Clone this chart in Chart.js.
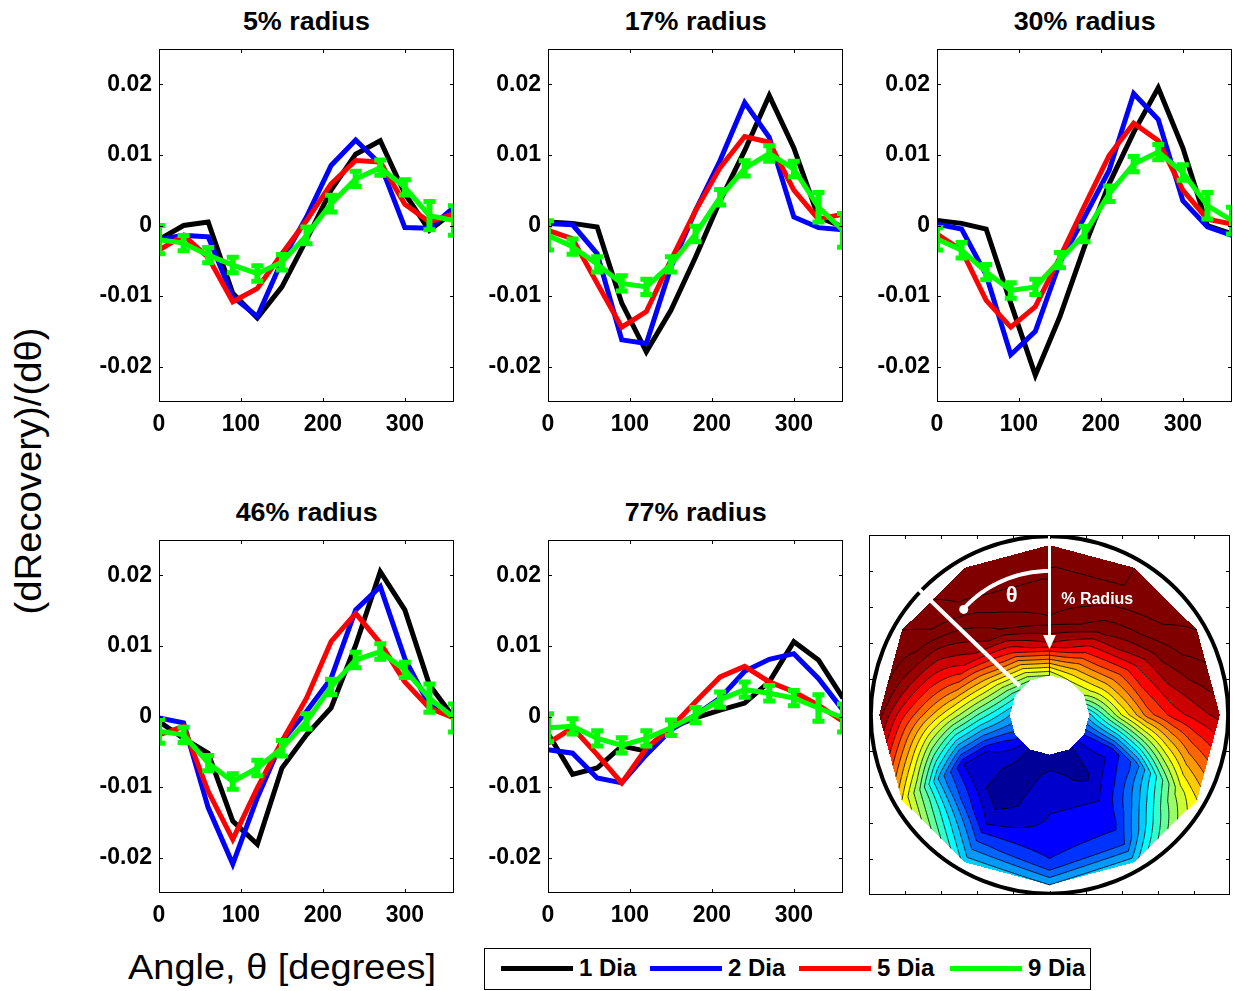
<!DOCTYPE html>
<html><head><meta charset="utf-8"><title>dRecovery/dtheta</title>
<script src="https://cdn.jsdelivr.net/npm/chart.js@4.4.1/dist/chart.umd.min.js"></script>
<style>
html,body{margin:0;padding:0;background:#fff;}
#wrap{position:relative;width:1233px;height:991px;overflow:hidden;background:#fff;font-family:'Liberation Sans',Arial,Helvetica,sans-serif;}
canvas{position:absolute;}
.txt{position:absolute;white-space:nowrap;color:#000;transform-origin:50% 50%;}
</style></head><body><div id="wrap"></div>
<script>
const FONT = "'Liberation Sans', Arial, Helvetica, sans-serif";

// ---------------- data ----------------
const angles = [0,30,60,90,120,150,180,210,240,270,300,330,360];
const xTicks = [0,100,200,300];
const yTicks = [-0.02,-0.01,0,0.01,0.02];
const yTickLabels = ['-0.02','-0.01','0','0.01','0.02'];
const seriesNames = ['1 Dia','2 Dia','5 Dia','9 Dia'];
const seriesColors = ['#000000','#0000ff','#ff0000','#00ff00'];
const panelTitles = ['5% radius','17% radius','30% radius','46% radius','77% radius'];

const r5_d1 = [-0.0020, 0.0000, 0.0005,-0.0096,-0.0131,-0.0087,-0.0020, 0.0050, 0.0101, 0.0120, 0.0045,-0.0007, 0.0020];
const r5_d2 = [-0.0020,-0.0014,-0.0016,-0.0101,-0.0129,-0.0050, 0.0012, 0.0085, 0.0121, 0.0087,-0.0003,-0.0004, 0.0026];
const r5_d5 = [-0.0035,-0.0014,-0.0045,-0.0108,-0.0089,-0.0040, 0.0007, 0.0059, 0.0092, 0.0090, 0.0030, 0.0005, 0.0017];
const r5_d9 = [-0.0020,-0.0025,-0.0042,-0.0056,-0.0068,-0.0052,-0.0014, 0.0031, 0.0066, 0.0082, 0.0054, 0.0014, 0.0007];
const r5_e9 = [ 0.0022, 0.0013, 0.0013, 0.0013, 0.0013, 0.0013, 0.0014, 0.0014, 0.0013, 0.0013, 0.0013, 0.0022, 0.0023];

const r17_d1 = [ 0.0005, 0.0003,-0.0002,-0.0110,-0.0179,-0.0120,-0.0045, 0.0035, 0.0106, 0.0184, 0.0110, 0.0012,-0.0002];
const r17_d2 = [ 0.0003, 0.0001,-0.0040,-0.0162,-0.0167,-0.0059, 0.0021, 0.0092, 0.0174, 0.0125, 0.0012,-0.0003,-0.0006];
const r17_d5 = [-0.0007,-0.0019,-0.0082,-0.0144,-0.0122,-0.0049, 0.0021, 0.0082, 0.0126, 0.0118, 0.0050, 0.0009, 0.0016];
const r17_d9 = [-0.0014,-0.0030,-0.0055,-0.0082,-0.0087,-0.0055,-0.0012, 0.0040, 0.0081, 0.0102, 0.0080, 0.0026,-0.0007];
const r17_e9 = [ 0.0023, 0.0013, 0.0013, 0.0013, 0.0013, 0.0013, 0.0013, 0.0013, 0.0013, 0.0013, 0.0013, 0.0023, 0.0026];

const r30_d1 = [ 0.0007, 0.0003,-0.0005,-0.0110,-0.0212,-0.0129,-0.0030, 0.0059, 0.0132, 0.0195, 0.0110, 0.0000,-0.0012];
const r30_d2 = [ 0.0002,-0.0005,-0.0070,-0.0183,-0.0150,-0.0052, 0.0012, 0.0078, 0.0187, 0.0150, 0.0035,-0.0002,-0.0014];
const r30_d5 = [-0.0012,-0.0035,-0.0106,-0.0144,-0.0115,-0.0045, 0.0028, 0.0099, 0.0145, 0.0120, 0.0050, 0.0009, 0.0002];
const r30_d9 = [-0.0019,-0.0035,-0.0066,-0.0092,-0.0087,-0.0049,-0.0012, 0.0045, 0.0087, 0.0104, 0.0075, 0.0028, 0.0007];
const r30_e9 = [ 0.0018, 0.0013, 0.0013, 0.0013, 0.0013, 0.0013, 0.0013, 0.0013, 0.0013, 0.0013, 0.0013, 0.0021, 0.0021];

const r46_d1 = [-0.0007,-0.0031,-0.0052,-0.0148,-0.0181,-0.0073,-0.0026, 0.0012, 0.0101, 0.0205, 0.0151, 0.0045,-0.0002];
const r46_d2 = [-0.0002,-0.0009,-0.0129,-0.0209,-0.0115,-0.0035, 0.0007, 0.0054, 0.0151, 0.0184, 0.0082, 0.0016,-0.0002];
const r46_d5 = [-0.0026,-0.0014,-0.0106,-0.0174,-0.0101,-0.0035, 0.0026, 0.0106, 0.0146, 0.0104, 0.0049, 0.0012,-0.0002];
const r46_d9 = [-0.0021,-0.0026,-0.0066,-0.0092,-0.0073,-0.0045,-0.0007, 0.0042, 0.0080, 0.0092, 0.0066, 0.0026,-0.0002];
const r46_e9 = [ 0.0019, 0.0013, 0.0013, 0.0013, 0.0013, 0.0013, 0.0013, 0.0013, 0.0013, 0.0013, 0.0013, 0.0022, 0.0022];

const r77_d1 = [-0.0024,-0.0082,-0.0073,-0.0042,-0.0049,-0.0016,-0.0002, 0.0009, 0.0019, 0.0049, 0.0106, 0.0080, 0.0026];
const r77_d2 = [-0.0047,-0.0052,-0.0087,-0.0094,-0.0054,-0.0019, 0.0002, 0.0026, 0.0064, 0.0081, 0.0089, 0.0054, 0.0009];
const r77_d5 = [-0.0038,-0.0016,-0.0054,-0.0094,-0.0045,-0.0016, 0.0021, 0.0056, 0.0071, 0.0049, 0.0035, 0.0016,-0.0007];
const r77_d9 = [-0.0016,-0.0014,-0.0031,-0.0041,-0.0031,-0.0016, 0.0002, 0.0024, 0.0038, 0.0033, 0.0026, 0.0012,-0.0002];
const r77_e9 = [ 0.0022, 0.0013, 0.0013, 0.0013, 0.0013, 0.0013, 0.0013, 0.0013, 0.0013, 0.0013, 0.0013, 0.0021, 0.0022];

// contour map: field value at each ring (radius) and angle (CCW from top)
const ringAngles = [0,30,60,90,120,150,180,210,240,270,300,330];
const ringRadii = [0.22,0.40,0.55,0.70,0.83,0.944];
const ring0 = [0.55,0.50,0.42,0.30,0.18,0.04,0.03,0.03,0.15,0.33,0.55,0.60];
const ring1 = [0.95,0.85,0.70,0.45,0.10,0.02,0.07,0.04,0.12,0.60,0.75,0.85];
const ring2 = [1.10,1.05,0.90,0.60,0.10,0.02,0.10,0.10,0.22,0.78,0.90,1.02];
const ring3 = [1.15,1.12,0.98,0.75,0.28,0.10,0.12,0.13,0.42,0.88,1.02,1.10];
const ring4 = [1.15,1.18,1.08,0.88,0.50,0.22,0.16,0.20,0.58,0.93,1.08,1.15];
const ring5 = [1.15,1.20,1.10,1.02,0.65,0.33,0.30,0.33,0.65,0.97,1.10,1.15];
const contourLevels = [-0.10,-0.05,0.00,0.05,0.10,0.15,0.20,0.25,0.30,0.35,0.40,0.45,0.50,0.55,0.60,0.65,0.70,0.75,0.80,0.85,0.90,0.95,1.00,1.05,1.10,1.15,1.20,1.25];
const mapTicks = [-0.8,-0.6,-0.4,-0.2,0,0.2,0.4,0.6,0.8];

// ---------------- layout ----------------
const wrap = document.getElementById('wrap');
const panels = [
  {title:panelTitles[0], d1:r5_d1,  d2:r5_d2,  d5:r5_d5,  d9:r5_d9,  e9:r5_e9,  box:{x:159,y:49,w:295,h:353}},
  {title:panelTitles[1], d1:r17_d1, d2:r17_d2, d5:r17_d5, d9:r17_d9, e9:r17_e9, box:{x:548,y:49,w:295,h:353}},
  {title:panelTitles[2], d1:r30_d1, d2:r30_d2, d5:r30_d5, d9:r30_d9, e9:r30_e9, box:{x:937,y:49,w:295,h:353}},
  {title:panelTitles[3], d1:r46_d1, d2:r46_d2, d5:r46_d5, d9:r46_d9, e9:r46_e9, box:{x:159,y:540,w:295,h:353}},
  {title:panelTitles[4], d1:r77_d1, d2:r77_d2, d5:r77_d5, d9:r77_d9, e9:r77_e9, box:{x:548,y:540,w:295,h:353}}
];

const errPlugin = {
  id:'errBars',
  afterDatasetsDraw(chart){
    const {ctx, chartArea:a, scales:{x,y}} = chart;
    ctx.save();
    ctx.beginPath(); ctx.rect(a.left,a.top,a.right-a.left,a.bottom-a.top); ctx.clip();
    chart.data.datasets.forEach(ds=>{
      if(!ds.errorBars) return;
      ctx.strokeStyle = ds.borderColor; ctx.lineCap='butt';
      ds.data.forEach((p,k)=>{
        const e = ds.errorBars[k];
        const px = x.getPixelForValue(p.x), y1 = y.getPixelForValue(p.y+e), y2 = y.getPixelForValue(p.y-e);
        ctx.lineWidth = 6;
        ctx.beginPath(); ctx.moveTo(px,y1); ctx.lineTo(px,y2); ctx.stroke();
        ctx.lineWidth = 5;
        ctx.beginPath(); ctx.moveTo(px-6,y1+1.5); ctx.lineTo(px+6,y1+1.5); ctx.moveTo(px-6,y2-1.5); ctx.lineTo(px+6,y2-1.5); ctx.stroke();
      });
    });
    ctx.restore();
  }
};

const frameTicksPlugin = {
  id:'frameTicks',
  afterDatasetsDraw(chart, args, opts){
    const {ctx, chartArea:a, scales:{x,y}} = chart;
    const L = opts.len || 4;
    ctx.save();
    ctx.strokeStyle='#000'; ctx.lineWidth=1;
    ctx.strokeRect(a.left+0.5, a.top+0.5, a.right-a.left-1, a.bottom-a.top-1);
    ctx.beginPath();
    (opts.xTicks||[]).forEach(v=>{
      const px = Math.round(x.getPixelForValue(v))+0.5;
      if(px<=a.left+1||px>=a.right-1) return;
      ctx.moveTo(px,a.bottom); ctx.lineTo(px,a.bottom-L);
      ctx.moveTo(px,a.top); ctx.lineTo(px,a.top+L);
    });
    (opts.yTicks||[]).forEach(v=>{
      const py = Math.round(y.getPixelForValue(v))+0.5;
      if(py<=a.top+1||py>=a.bottom-1) return;
      ctx.moveTo(a.left,py); ctx.lineTo(a.left+L,py);
      ctx.moveTo(a.right,py); ctx.lineTo(a.right-L,py);
    });
    ctx.stroke();
    ctx.restore();
  }
};

function buildPanel(p){
  const YW=60, XH=40, PT=2, PR=1, box=p.box;
  const cv=document.createElement('canvas');
  const W=box.w+YW+PR, H=box.h+XH+PT;
  cv.width=W; cv.height=H;
  cv.style.left=(box.x-YW)+'px'; cv.style.top=(box.y-PT)+'px';
  cv.style.width=W+'px'; cv.style.height=H+'px';
  wrap.appendChild(cv);
  const tickFont = {family:FONT, size:23, weight:'bold', lineHeight:1.2};
  const mk = (vals, si, err) => ({
    label: seriesNames[si],
    data: angles.map((a,k)=>({x:a, y:vals[k]})),
    borderColor: seriesColors[si], backgroundColor: seriesColors[si],
    borderWidth: 5, pointRadius: 0, pointHoverRadius: 0, tension: 0, clip: 0, fill: false,
    borderJoinStyle: 'miter', errorBars: err || null
  });
  new Chart(cv, {
    type:'line',
    data:{datasets:[mk(p.d9,3,p.e9), mk(p.d5,2), mk(p.d2,1), mk(p.d1,0)]},
    options:{
      responsive:false, animation:false, devicePixelRatio:1,
      layout:{padding:{top:PT,right:PR,left:0,bottom:0}},
      plugins:{legend:{display:false}, tooltip:{enabled:false},
        frameTicks:{xTicks:xTicks, yTicks:yTicks, len:4}},
      events:[],
      scales:{
        x:{type:'linear', min:0, max:360,
          afterBuildTicks: ax => { ax.ticks = xTicks.map(v=>({value:v})); },
          afterFit: s => { s.height = XH; s.paddingLeft = 0; s.paddingRight = 0; },
          grid:{display:false, drawTicks:false}, border:{display:false},
          ticks:{color:'#000', font:tickFont, padding:9, maxRotation:0, autoSkip:false, callback:(v)=>String(v)}},
        y:{type:'linear', min:-0.025, max:0.025,
          afterBuildTicks: ax => { ax.ticks = yTicks.map(v=>({value:v})); },
          afterFit: s => { s.width = YW; s.paddingTop = 0; s.paddingBottom = 0; },
          grid:{display:false, drawTicks:false}, border:{display:false},
          ticks:{color:'#000', font:tickFont, padding:7, autoSkip:false, callback:(v,i)=>yTickLabels[i]}}
      }
    },
    plugins:[errPlugin, frameTicksPlugin]
  });
}
panels.forEach(buildPanel);

// ---------------- contour map panel ----------------
const ringValues = [ring0, ring1, ring2, ring3, ring4, ring5];
function jet(v){
  v = Math.max(0, Math.min(1, v));
  const f = t => Math.max(0, Math.min(1, 1.5 - Math.abs(4*v - t)));
  return [f(3), f(2), f(1)].map(c => Math.round(c*255));
}
function bandColor(val){
  let k = -1;
  for(let i=0;i<contourLevels.length;i++){ if(val>=contourLevels[i]) k=i; else break; }
  let c;
  if(k<0) c = 0; else if(k>=contourLevels.length-1) c = 1;
  else c = (contourLevels[k]+contourLevels[k+1])/2;
  return jet(c);
}
function vert(deg){ const r=deg*Math.PI/180; return [-Math.sin(r), Math.cos(r)]; }
function fieldParam(i,t,j,s){
  const i2=(i+1)%ringAngles.length, A=ringValues[j], B=ringValues[j+1];
  const v0=A[i]*(1-t)+A[i2]*t, v1=B[i]*(1-t)+B[i2]*t;
  return v0*(1-s)+v1*s;
}
function radialLocate(rr){
  for(let j=0;j<ringRadii.length-1;j++){
    if(rr<=ringRadii[j+1]) return [j,(rr-ringRadii[j])/(ringRadii[j+1]-ringRadii[j])];
  }
  return [ringRadii.length-2,1];
}
function fieldAt(X,Y){
  let th = Math.atan2(-X,Y)*180/Math.PI; if(th<0) th+=360;
  const i = Math.floor(th/30)%12;
  const Vi=vert(ringAngles[i]), Vj=vert(ringAngles[i]+30);
  const Ex=Vj[0]-Vi[0], Ey=Vj[1]-Vi[1];
  const D=Vi[0]*Ey-Vi[1]*Ex;
  const a=(X*Ey-Y*Ex)/D, b=(Vi[0]*Y-Vi[1]*X)/D;
  if(a<ringRadii[0]||a>ringRadii[ringRadii.length-1]) return null;
  const t=Math.min(1,Math.max(0,b/a));
  const [j,s]=radialLocate(a);
  return fieldParam(i,t,j,s);
}

const contourPlugin = {
  id:'contourMap',
  beforeDatasetsDraw(chart){
    const {ctx, chartArea:a, scales:{x,y}} = chart;
    const w=Math.round(a.right-a.left), h=Math.round(a.bottom-a.top);
    const off=document.createElement('canvas'); off.width=w; off.height=h;
    const octx=off.getContext('2d'); const img=octx.createImageData(w,h);
    for(let py=0;py<h;py++){
      const Y=y.getValueForPixel(a.top+py+0.5);
      for(let px=0;px<w;px++){
        const X=x.getValueForPixel(a.left+px+0.5);
        const v=fieldAt(X,Y); if(v===null) continue;
        const c=bandColor(v); const o=(py*w+px)*4;
        img.data[o]=c[0]; img.data[o+1]=c[1]; img.data[o+2]=c[2]; img.data[o+3]=255;
      }
    }
    octx.putImageData(img,0,0);
    ctx.drawImage(off,a.left,a.top);
    // contour lines (marching squares on a refined grid)
    const NA=12, NR=12, nA=12*NA, nR=(ringRadii.length-1)*NR+1;
    const PX=[], PY=[], VV=[];
    for(let ia=0;ia<nA;ia++){
      const i=Math.floor(ia/NA), t=(ia%NA)/NA;
      const Vi=vert(ringAngles[i]), Vj=vert(ringAngles[i]+30);
      for(let ir=0;ir<nR;ir++){
        const j=Math.min(ringRadii.length-2,Math.floor(ir/NR)), s=(ir-j*NR)/NR;
        const rr=ringRadii[j]+s*(ringRadii[j+1]-ringRadii[j]);
        const X=rr*((1-t)*Vi[0]+t*Vj[0]), Y=rr*((1-t)*Vi[1]+t*Vj[1]);
        const k=ia*nR+ir;
        PX[k]=x.getPixelForValue(X); PY[k]=y.getPixelForValue(Y); VV[k]=fieldParam(i,t,j,s);
      }
    }
    ctx.save();
    ctx.strokeStyle='#000'; ctx.lineWidth=0.8;
    ctx.beginPath();
    for(let ia=0;ia<nA;ia++){
      const ib=(ia+1)%nA;
      for(let ir=0;ir<nR-1;ir++){
        const c=[ia*nR+ir, ib*nR+ir, ib*nR+ir+1, ia*nR+ir+1];
        for(const L of contourLevels){
          const pts=[];
          for(let e=0;e<4;e++){
            const p=c[e], q=c[(e+1)%4];
            const va=VV[p]-L, vb=VV[q]-L;
            if((va>=0)!==(vb>=0)){
              const f=va/(va-vb);
              pts.push([PX[p]+f*(PX[q]-PX[p]), PY[p]+f*(PY[q]-PY[p])]);
            }
          }
          if(pts.length>=2){ ctx.moveTo(pts[0][0],pts[0][1]); ctx.lineTo(pts[1][0],pts[1][1]); }
          if(pts.length===4){ ctx.moveTo(pts[2][0],pts[2][1]); ctx.lineTo(pts[3][0],pts[3][1]); }
        }
      }
    }
    ctx.stroke();
    ctx.restore();
  },
  afterDatasetsDraw(chart){
    const {ctx, scales:{x,y}} = chart;
    const P=(X,Y)=>[x.getPixelForValue(X), y.getPixelForValue(Y)];
    const polar=(r,deg)=>{ const v=vert(deg); return P(r*v[0], r*v[1]); };
    const c0=P(0,0);
    ctx.save();
    // seam line at theta = 0
    ctx.strokeStyle='#000'; ctx.lineWidth=1;
    let p1=polar(0.22,0), p2=polar(0.37,0);
    ctx.beginPath(); ctx.moveTo(p1[0],p1[1]); ctx.lineTo(p2[0],p2[1]); ctx.stroke();
    // outer circle
    const rad=x.getPixelForValue(0.99)-c0[0];
    ctx.lineWidth=4; ctx.beginPath(); ctx.arc(c0[0],c0[1],rad,0,Math.PI*2); ctx.stroke();
    // white radial line
    ctx.strokeStyle='#fff'; ctx.fillStyle='#fff'; ctx.lineCap='butt';
    ctx.lineWidth=4;
    p1=polar(1.04,46); p2=polar(0.23,46);
    ctx.beginPath(); ctx.moveTo(p1[0],p1[1]); ctx.lineTo(p2[0],p2[1]); ctx.stroke();
    // vertical arrow
    ctx.lineWidth=3;
    p1=polar(1.05,0); p2=polar(0.44,0);
    ctx.beginPath(); ctx.moveTo(p1[0],p1[1]); ctx.lineTo(p2[0],p2[1]); ctx.stroke();
    const tip=P(0,0.365), bl=P(-0.035,0.445), br=P(0.035,0.445);
    ctx.beginPath(); ctx.moveTo(tip[0],tip[1]); ctx.lineTo(bl[0],bl[1]); ctx.lineTo(br[0],br[1]); ctx.closePath(); ctx.fill();
    // curved theta arrow
    ctx.lineWidth=4; ctx.lineCap='round'; ctx.beginPath();
    for(let d=1; d<=38; d++){
      const r=0.80-0.04*(d/38)*(d/38);
      const q=polar(r,d);
      if(d===1) ctx.moveTo(q[0],q[1]); else ctx.lineTo(q[0],q[1]);
    }
    ctx.stroke();
    const dot=polar(0.755,39);
    ctx.beginPath(); ctx.arc(dot[0],dot[1],4.5,0,Math.PI*2); ctx.fill();
    // labels
    ctx.textBaseline='middle';
    ctx.font='bold 22px '+FONT; ctx.textAlign='center';
    let tp=P(-0.21,0.66); ctx.fillText('θ',tp[0],tp[1]);
    ctx.font='bold 16px '+FONT; ctx.textAlign='left';
    tp=P(0.065,0.64); ctx.fillText('% Radius',tp[0],tp[1]);
    ctx.restore();
  }
};

(function buildMap(){
  const box={x:869,y:535,w:361,h:360};
  const cv=document.createElement('canvas');
  cv.width=box.w; cv.height=box.h;
  cv.style.left=box.x+'px'; cv.style.top=box.y+'px';
  cv.style.width=box.w+'px'; cv.style.height=box.h+'px';
  wrap.appendChild(cv);
  new Chart(cv,{
    type:'scatter', data:{datasets:[]},
    options:{responsive:false, animation:false, devicePixelRatio:1, events:[],
      layout:{padding:0},
      plugins:{legend:{display:false}, tooltip:{enabled:false}, frameTicks:{xTicks:mapTicks, yTicks:mapTicks, len:4}},
      scales:{x:{type:'linear',min:-1,max:1,display:false}, y:{type:'linear',min:-1,max:1,display:false}}},
    plugins:[contourPlugin, frameTicksPlugin]
  });
})();

// ---------------- text ----------------
function addText(str, cx, cy, size, weight, scaleX, rotate){
  const d=document.createElement('div'); d.className='txt'; d.textContent=str;
  d.style.font=weight+' '+size+'px '+FONT; d.style.lineHeight='1';
  wrap.appendChild(d);
  const w=d.offsetWidth, h=d.offsetHeight;
  d.style.left=(cx-w/2)+'px'; d.style.top=(cy-h/2)+'px';
  d.style.transform=(rotate?'rotate(-90deg) ':'')+'scaleX('+scaleX+')';
  return w;
}
function natWidth(str, font){ const c=document.createElement('canvas').getContext('2d'); c.font=font; return c.measureText(str).width; }

const titleScale = 127 / natWidth(panelTitles[0], 'bold 26px '+FONT);
panels.forEach(p=>{
  addText(p.title, p.box.x+p.box.w/2, p.box.y < 100 ? 21 : 512, 26, 'bold', titleScale, false);
});
const yLab='(dRecovery)/(dθ)';
addText(yLab, 28.5, 471, 36, 'normal', 287/natWidth(yLab,'36px '+FONT), true);
const xLab='Angle, θ [degrees]';
addText(xLab, 282, 966, 35, 'normal', 308/natWidth(xLab,'35px '+FONT), false);

// ---------------- legend ----------------
(function legend(){
  const box=document.createElement('div');
  box.style.cssText='position:absolute;left:484px;top:948px;width:607px;height:42px;box-sizing:border-box;border:1px solid #000;background:#fff;';
  wrap.appendChild(box);
  const lineX=[16,165,314,465];
  seriesNames.forEach((n,i)=>{
    const ln=document.createElement('div');
    ln.style.cssText='position:absolute;left:'+lineX[i]+'px;top:17px;width:72px;height:5px;background:'+seriesColors[i]+';';
    box.appendChild(ln);
    const t=document.createElement('div');
    t.textContent=n;
    t.style.cssText='position:absolute;white-space:nowrap;left:'+(lineX[i]+78)+'px;top:7px;font:bold 24px '+FONT+';line-height:24px;color:#000;';
    box.appendChild(t);
  });
})();
</script></body></html>
